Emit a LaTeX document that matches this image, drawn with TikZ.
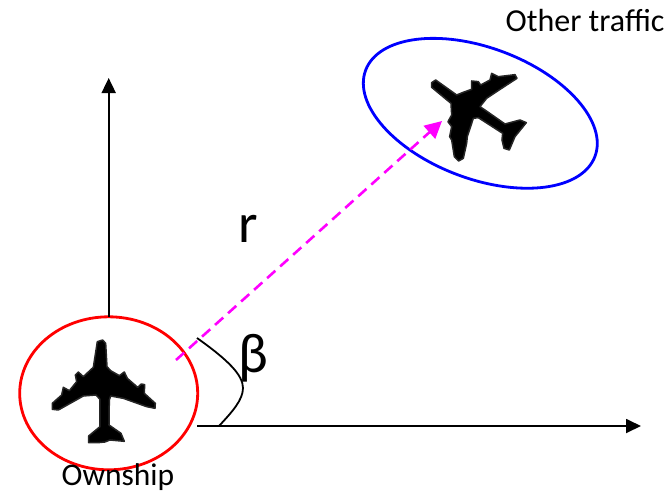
\documentclass[tikz,border=0pt]{standalone}
\usepackage{fontspec}
\setmainfont{Carlito}
\usetikzlibrary{shapes.geometric,arrows.meta}
\definecolor{vividmagenta}{RGB}{255,0,255}
\tikzset{
  x=1pt,y=-1pt,
  zone/.style={ellipse,draw,line width=2.8pt,inner sep=0pt,outer sep=0pt,fill=none},
  axisline/.style={draw=black,line width=1.8pt,-{Triangle[length=15pt,width=14pt]}},
  rangeline/.style={draw=vividmagenta,line width=2.6pt,dash pattern=on 11pt off 6.5pt,-{Triangle[length=17pt,width=17pt]}},
  jet/.style={fill=black,draw=black!85,line width=1.5pt,line join=round},
  smalltext/.style={font=\fontsize{32}{36}\selectfont,inner sep=0pt},
  bigtext/.style={font=\fontsize{56}{60}\selectfont,inner sep=0pt}
}
\begin{document}
\begin{tikzpicture}
\useasboundingbox (0,0) rectangle (672,493);
% aeroplanes
\begin{scope}[shift={(10,310)},x=0.3333pt,y=-0.3333pt]
\draw[jet] (262,95)--(278,90)--(287,100)--(291,170)--(302,182)--(328,197)--(343,186)--(352,205)--(383,232)--(394,222)--(404,224)--(403,250)--(436,280)--(435,295)--(410,290)--(340,265)--(302,258)--(298,270)--(297,345)--(333,370)--(343,394)--(300,390)--(285,396)--(265,398)--(236,398)--(236,378)--(270,350)--(270,268)--(258,255)--(220,258)--(145,300)--(127,298)--(127,280)--(155,255)--(160,232)--(178,242)--(200,215)--(196,195)--(205,186)--(220,200)--(250,172)--cycle;
\end{scope}
\begin{scope}[shift={(350,0)},x=0.3333pt,y=-0.3333pt]
\draw[jet] (245,248)--(257,240)--(320,285)--(345,275)--(365,268)--(365,243)--(385,245)--(392,255)--(420,240)--(425,220)--(445,230)--(495,224)--(501,235)--(455,265)--(410,295)--(390,320)--(405,330)--(465,372)--(510,360)--(529,368)--(495,410)--(478,450)--(462,445)--(456,420)--(458,400)--(385,353)--(370,355)--(352,410)--(350,430)--(340,475)--(326,483)--(313,470)--(305,420)--(299,410)--(305,380)--(294,365)--(305,345)--(303,310)--(245,262)--cycle;
\end{scope}
% zones
\node[zone,draw=red,minimum width=178pt,minimum height=153pt] (own) at (108.7,393.3) {};
\node[zone,draw=blue,minimum width=245pt,minimum height=131pt,rotate=-20.6] (other) at (480.3,113.3) {};
% free ends
\coordinate (upEnd) at (108.7,78);
\coordinate (rightStart) at (197,426);
\coordinate (rightEnd) at (641,426);
\coordinate (rangeStart) at (176,360);
\coordinate (rangeEnd) at (442,121);
\coordinate (arcStart) at (197,338);
\coordinate (arcEnd) at (219,426);
% connectors
\draw[axisline] (own.north) -- (upEnd);
\draw[axisline] (rightStart) -- (rightEnd);
\draw[rangeline] (rangeStart) -- (rangeEnd);
\draw[black,line width=1.8pt] (arcStart) .. controls (228,360) and (243,375) .. (243,388) .. controls (243,400) and (232,412) .. (arcEnd);
% labels
\node[smalltext] (lblOther) at (585,21) {Other traffic};
\node[smalltext,font=\fontsize{31.5}{36}\selectfont] (lblOwn) at (118,477) {Ownship};
\node[bigtext] (lblR) at (248,229) {r};
\node[bigtext] (lblB) at (253,358) {β};
\end{tikzpicture}
\end{document}
